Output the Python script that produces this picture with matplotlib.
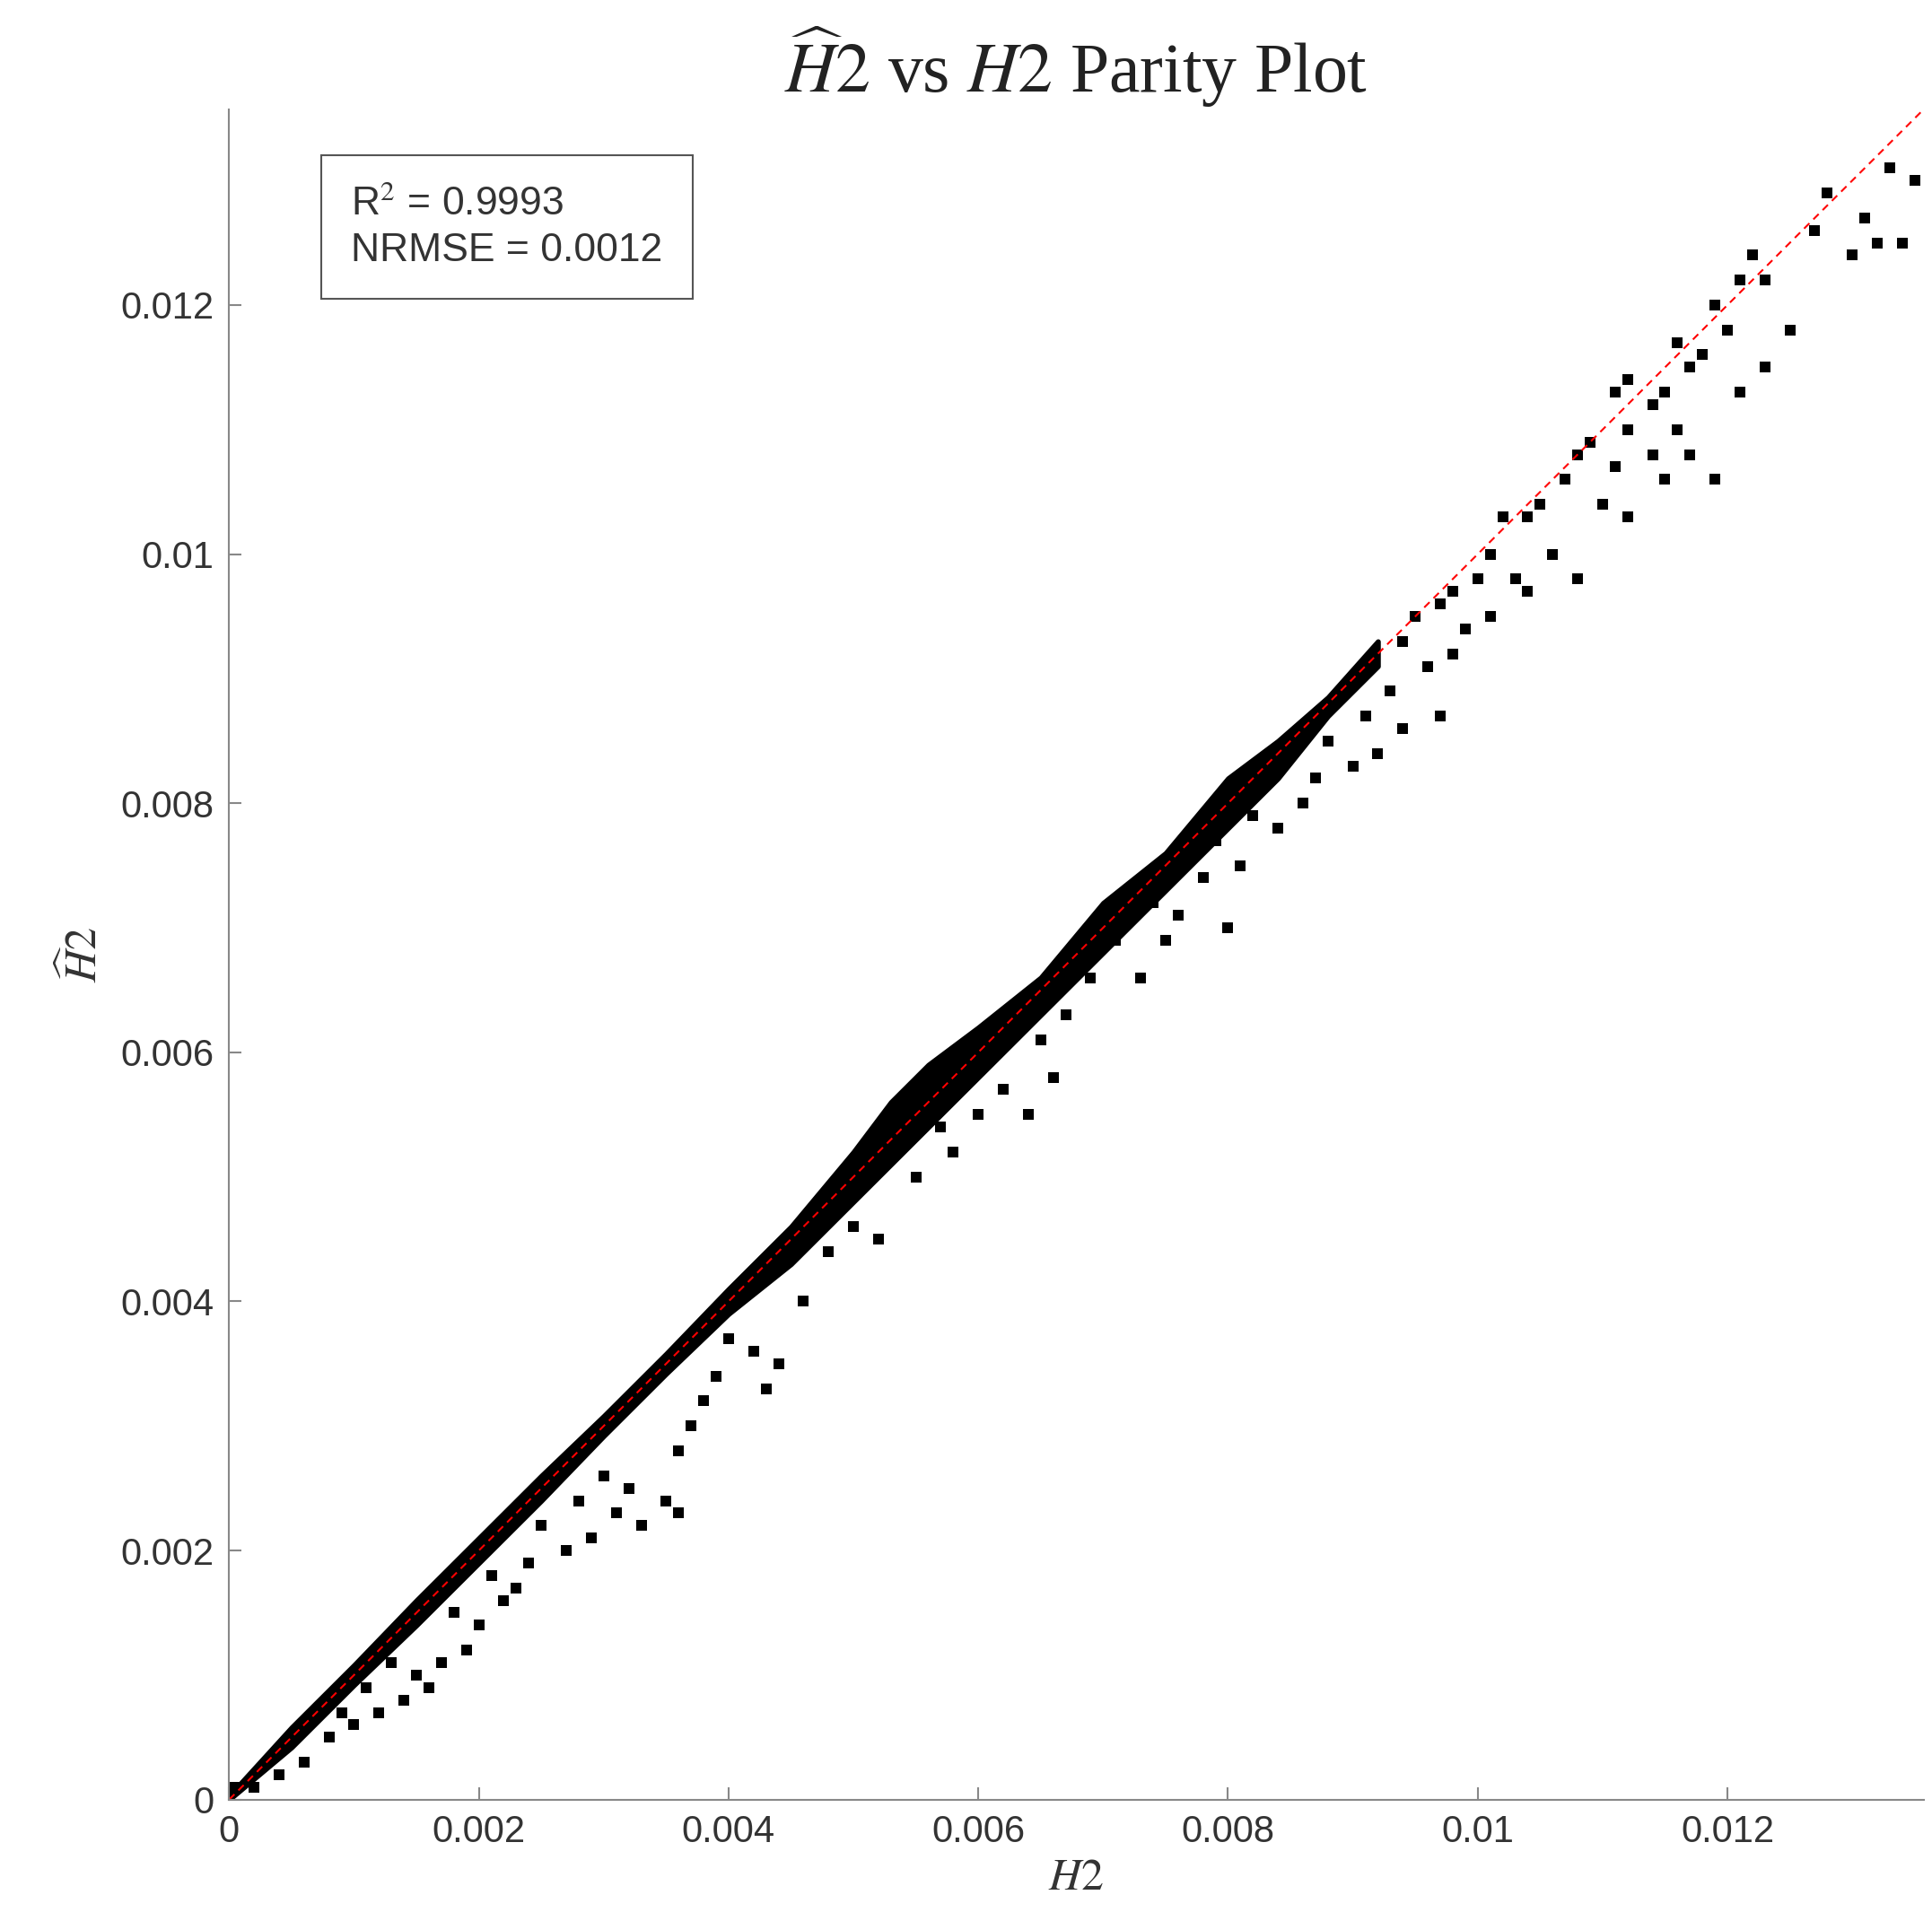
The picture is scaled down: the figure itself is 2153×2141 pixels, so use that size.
import matplotlib
matplotlib.use("Agg")
import matplotlib.pyplot as plt

plt.rcParams['mathtext.fontset'] = 'stix'

band_x = [0.0, 0.0005, 0.001, 0.0015, 0.002, 0.0025, 0.003, 0.0035, 0.004, 0.0045, 0.005, 0.0053, 0.0056, 0.006, 0.0065, 0.007, 0.0075, 0.008, 0.0084, 0.0088, 0.0092]
band_hi = [0.00003, 0.00058, 0.00108, 0.0016, 0.0021, 0.0026, 0.00308, 0.00358, 0.0041, 0.0046, 0.0052, 0.0056, 0.0059, 0.0062, 0.0066, 0.0072, 0.0076, 0.0082, 0.0085, 0.00885, 0.0093]
band_lo = [0.0, 0.00042, 0.00092, 0.0014, 0.0019, 0.0024, 0.00292, 0.00342, 0.0039, 0.0043, 0.0048, 0.0051, 0.0054, 0.0058, 0.0063, 0.0068, 0.0073, 0.0078, 0.0082, 0.0087, 0.0091]

out_x = [0.0133,0.0135,0.0131,0.0130,0.0132,0.0134,0.0128,0.0127,0.0123,0.0125,0.0122,0.0121,0.0120,0.0119,0.0123,0.0121,0.0118,0.0117,0.0116,0.0115,0.0114,0.0112,0.0111,0.0112,0.0114,0.0116,0.0117,0.0119,0.0115,0.0111,0.0109,0.0108,0.0110,0.0112,0.0107,0.0105,0.0104,0.0102,0.0101,0.0103,0.0106,0.0108,0.0100,0.0098,0.0097,0.0099,0.0101,0.0104,0.0095,0.0094,0.0096,0.0098,0.0093,0.0091,0.0094,0.0097,0.0092,0.0090,0.0088,0.0087,0.0086,0.0084,0.0082,0.0081,0.0079,0.0078,0.0080,0.0076,0.0074,0.0075,0.0073,0.0071,0.0069,0.0067,0.0065,0.0066,0.0064,0.0062,0.0060,0.0058,0.0057,0.0055,0.0052,0.0050,0.0048,0.0046,0.0044,0.0042,0.0040,0.0043,0.0039,0.0038,0.0037,0.0036,0.0035,0.0033,0.0036,0.0032,0.0031,0.0030,0.0029,0.0028,0.0027,0.0025,0.0024,0.0023,0.0022,0.0021,0.0020,0.0019,0.0018,0.0017,0.0016,0.0015,0.0014,0.0013,0.0012,0.0011,0.0010,0.0009,0.0008,0.0006,0.0004,0.0002,0.00005]
out_y = [0.0131,0.0130,0.0127,0.0124,0.0125,0.0125,0.0129,0.0126,0.0122,0.0118,0.0124,0.0122,0.0118,0.0120,0.0115,0.0113,0.0116,0.0115,0.0117,0.0113,0.0112,0.0114,0.0113,0.0110,0.0108,0.0110,0.0108,0.0106,0.0106,0.0107,0.0109,0.0108,0.0104,0.0103,0.0106,0.0104,0.0103,0.0103,0.0100,0.0098,0.0100,0.0098,0.0098,0.0097,0.0096,0.0094,0.0095,0.0097,0.0095,0.0093,0.0091,0.0092,0.0089,0.0087,0.0086,0.0087,0.0084,0.0083,0.0085,0.0082,0.0080,0.0078,0.0079,0.0075,0.0077,0.0074,0.0070,0.0071,0.0072,0.0069,0.0066,0.0069,0.0066,0.0063,0.0061,0.0058,0.0055,0.0057,0.0055,0.0052,0.0054,0.0050,0.0045,0.0046,0.0044,0.0040,0.0035,0.0036,0.0037,0.0033,0.0034,0.0032,0.0030,0.0028,0.0024,0.0022,0.0023,0.0025,0.0023,0.0026,0.0021,0.0024,0.0020,0.0022,0.0019,0.0017,0.0016,0.0018,0.0014,0.0012,0.0015,0.0011,0.0009,0.0010,0.0008,0.0011,0.0007,0.0009,0.0006,0.0007,0.0005,0.0003,0.0002,0.0001,0.0001]

xticks = [0, 0.002, 0.004, 0.006, 0.008, 0.01, 0.012]
xtick_labels = ['0', '0.002', '0.004', '0.006', '0.008', '0.01', '0.012']

fig = plt.figure(figsize=(21.53, 21.41), dpi=100)
ax = fig.add_axes([0.1186, 0.0632, 0.877, 0.8798])
ax.fill_between(band_x, band_lo, band_hi, color='black', linewidth=4)
ax.scatter(out_x, out_y, s=75, marker='s', color='black', linewidths=0)
ax.plot([0, 0.0136], [0, 0.0136], color='red', linestyle='--', linewidth=1.5, dashes=(4, 3))
ax.set_xlim(0, 0.01357)
ax.set_ylim(0, 0.01357)
ax.set_xticks(xticks)
ax.set_xticklabels(xtick_labels)
ax.set_yticks(xticks)
ax.set_yticklabels(xtick_labels)
for s in ['top', 'right']:
    ax.spines[s].set_visible(False)
for s in ['left', 'bottom']:
    ax.spines[s].set_color('#888888')
    ax.spines[s].set_linewidth(1.5)
ax.tick_params(direction='in', length=10, width=1.5, color='#888888', labelsize=30,
               labelcolor='#333333', pad=12)
for lab in ax.get_xticklabels() + ax.get_yticklabels():
    lab.set_fontfamily('Liberation Sans')
ax.set_xlabel(r'$H2$', fontsize=36, color='#333333', labelpad=4)
ax.set_ylabel(r'$\widehat{H}2$', fontsize=36, color='#333333', labelpad=12)
ax.set_title(r'$\widehat{H}2$ vs $H2$ Parity Plot', fontsize=56, family='Liberation Serif',
             color='#222222', pad=8)
ax.text(0.072, 0.955, 'R$^2$ = 0.9993\nNRMSE = 0.0012', transform=ax.transAxes,
        fontsize=32, family='Liberation Sans', color='#333333', va='top', linespacing=1.35,
        bbox=dict(boxstyle='square,pad=0.75', facecolor='white', edgecolor='#555555', linewidth=1.5))
fig.savefig('out.png', dpi=100, facecolor='white')
